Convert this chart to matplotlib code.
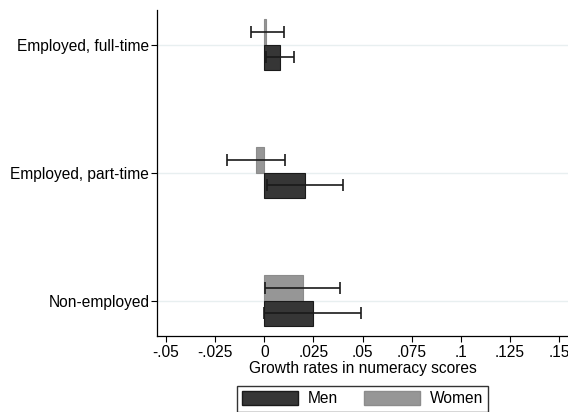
import matplotlib
matplotlib.use("Agg")
import matplotlib.pyplot as plt
from matplotlib.patches import Patch

plt.rcParams['font.family'] = ['Liberation Sans', 'DejaVu Sans']

categories = ["Employed, full-time", "Employed, part-time", "Non-employed"]
men = [0.0078, 0.0205, 0.0246]
men_lo = [0.0010, 0.0015, 0.0000]
men_hi = [0.0151, 0.0399, 0.0492]
women = [0.0010, -0.0041, 0.0195]
women_lo = [-0.0069, -0.0191, 0.0005]
women_hi = [0.0100, 0.0107, 0.0385]
xticks = [-0.05, -0.025, 0, 0.025, 0.05, 0.075, 0.1, 0.125, 0.15]
xticklabels = ["-.05", "-.025", "0", ".025", ".05", ".075", ".1", ".125", ".15"]

men_col = '#363636'
women_col = '#969696'
h = 0.2
fs = 11.2

fig = plt.figure(figsize=(5.68, 4.12), dpi=100)
ax = fig.add_axes([0.2764, 0.1845, 0.7236, 0.7912])

ypos = [3, 2, 1]
for i, y in enumerate(ypos):
    ax.axhline(y, color='#e8eff0', lw=1, zorder=0)
    ax.barh(y + h / 2, women[i], height=h, color=women_col, edgecolor='#8c8c8c', lw=0.8, zorder=2)
    ax.barh(y - h / 2, men[i], height=h, color=men_col, edgecolor='#1a1a1a', lw=0.8, zorder=2)
    ax.errorbar((women_lo[i] + women_hi[i]) / 2, y + h / 2,
                xerr=(women_hi[i] - women_lo[i]) / 2, fmt='none',
                ecolor='#1a1a1a', elinewidth=1.2, capsize=4, capthick=1.2, zorder=3)
    ax.errorbar((men_lo[i] + men_hi[i]) / 2, y - h / 2,
                xerr=(men_hi[i] - men_lo[i]) / 2, fmt='none',
                ecolor='#1a1a1a', elinewidth=1.2, capsize=4, capthick=1.2, zorder=3)

ax.set_xlim(-0.0546, 0.1545)
ax.set_ylim(0.724, 3.271)
ax.set_yticks(ypos)
ax.set_yticklabels(categories, fontsize=fs)
ax.set_xticks(xticks)
ax.set_xticklabels(xticklabels, fontsize=fs)
ax.set_xlabel("Growth rates in numeracy scores", fontsize=fs, labelpad=1)
ax.tick_params(length=4, width=0.8, pad=2.5)
ax.tick_params(axis='y', pad=1.5)
for s in ['top', 'right']:
    ax.spines[s].set_visible(False)
for s in ['left', 'bottom']:
    ax.spines[s].set_linewidth(0.9)

handles = [Patch(facecolor=men_col, edgecolor='#1a1a1a', label='Men'),
           Patch(facecolor=women_col, edgecolor='#8c8c8c', label='Women')]
fig.legend(handles=handles, loc='upper center', bbox_to_anchor=(362.5 / 568, 1 - 385.7 / 412),
           ncol=2, fontsize=fs, frameon=True, fancybox=False, edgecolor='black',
           handlelength=3.6, handleheight=1.0, handletextpad=0.6, columnspacing=1.7,
           borderpad=0.35, borderaxespad=0)

fig.savefig("out.png", dpi=100)
